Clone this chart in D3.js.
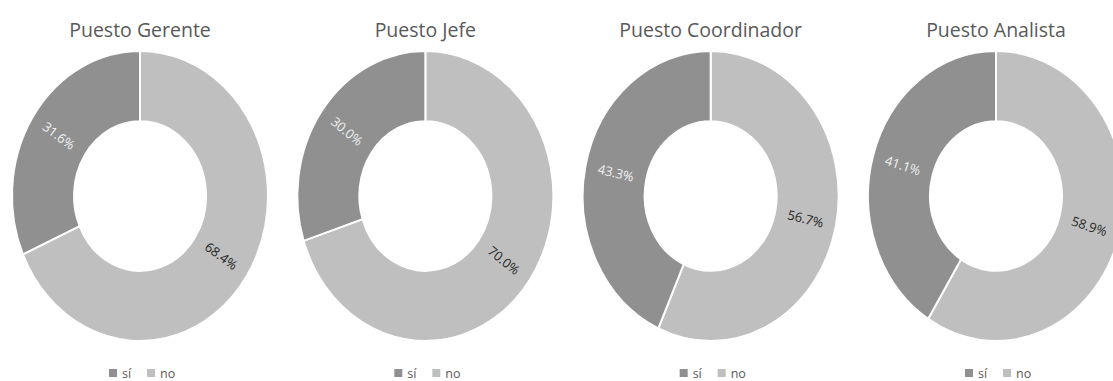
<!DOCTYPE html>
<html>
<head>
<meta charset="utf-8">
<script src="https://cdn.jsdelivr.net/npm/d3@7"></script>
<style>
body { margin: 0; background: #fff; }
text { font-family: "Open Sans", sans-serif; }
</style>
</head>
<body>
<svg width="1113" height="381"></svg>
<script>
var svg = d3.select("svg"),
    width = +svg.attr("width"),
    height = +svg.attr("height");

// one donut per puesto
var puestos = ["Puesto Gerente", "Puesto Jefe", "Puesto Coordinador", "Puesto Analista"];
var si = [31.6, 30.0, 43.3, 41.1];
var no = [68.4, 70.0, 56.7, 58.9];
var categorias = ["sí", "no"];

var colores = {"sí": "#909090", "no": "#bfbfbf"};
var labelColor = {"sí": "#f0f0f0", "no": "#262626"};

var outerR = 128, innerR = 66, stretch = 1.133;
var cy = 196;

var x = d3.scalePoint()
    .domain(puestos)
    .range([140, 996]);

// "no" starts at 12 o'clock going clockwise, "sí" closes the circle
var pie = d3.pie()
    .sort(null)
    .value(function(d) { return d.value; });

var arc = d3.arc()
    .innerRadius(innerR)
    .outerRadius(outerR);

puestos.forEach(function(p, i) {
    var cx = x(p);
    var data = [{key: "no", value: no[i]}, {key: "sí", value: si[i]}];
    var arcs = pie(data);

    var g = svg.append("g")
        .attr("transform", "translate(" + cx + "," + cy + ")");

    g.append("g")
        .attr("transform", "scale(1," + stretch + ")")
        .selectAll("path")
        .data(arcs)
        .enter().append("path")
        .attr("d", arc)
        .attr("fill", function(d) { return colores[d.data.key]; })
        .attr("stroke", "#fff")
        .attr("stroke-width", 2)
        .attr("vector-effect", "non-scaling-stroke");

    g.selectAll(".lbl")
        .data(arcs)
        .enter().append("text")
        .attr("class", "lbl")
        .attr("transform", function(d) {
            var c = arc.centroid(d);
            var px = c[0], py = c[1] * stretch;
            var ang = Math.atan2(py, px) * 180 / Math.PI;
            if (ang > 90) ang -= 180;
            if (ang < -90) ang += 180;
            return "translate(" + px + "," + py + ") rotate(" + ang + ")";
        })
        .attr("text-anchor", "middle")
        .attr("dy", "0.35em")
        .attr("font-size", 13)
        .attr("fill", function(d) { return labelColor[d.data.key]; })
        .text(function(d) { return d.data.value.toFixed(1) + "%"; });

    // title
    svg.append("text")
        .attr("x", cx)
        .attr("y", 37)
        .attr("text-anchor", "middle")
        .attr("font-size", 19.5)
        .attr("fill", "#595959")
        .text(p);

    // legend
    var leg = svg.append("g")
        .attr("transform", "translate(" + (cx - 31) + ",369)");
    var item = leg.selectAll("g")
        .data(categorias)
        .enter().append("g")
        .attr("transform", function(d, j) { return "translate(" + (j * 38) + ",0)"; });
    item.append("rect")
        .attr("width", 8)
        .attr("height", 8)
        .attr("fill", function(d) { return colores[d]; });
    item.append("text")
        .attr("x", 13)
        .attr("y", 8.5)
        .attr("font-size", 12.5)
        .attr("fill", "#595959")
        .text(function(d) { return d; });
});
</script>
</body>
</html>
